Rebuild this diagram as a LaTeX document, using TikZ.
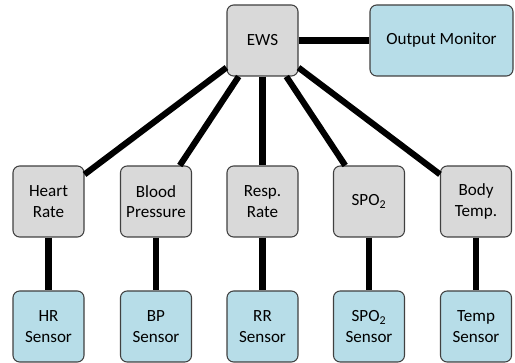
\documentclass[tikz,border=0pt]{standalone}
\usepackage{fontspec}
\setmainfont{Carlito}
\definecolor{boxgray}{HTML}{D9D9D9}
\definecolor{boxblue}{HTML}{B7DDE8}
\definecolor{edge}{HTML}{404040}
\begin{document}
\begin{tikzpicture}[x=0.75pt,y=-0.75pt,
  base/.style={draw=edge,line width=0.8pt,rounded corners=5pt,minimum width=53.25pt,minimum height=53.25pt,align=center,inner sep=1pt,font=\fontsize{12.8}{15.5}\selectfont},
  graybox/.style={base,fill=boxgray},
  bluebox/.style={base,fill=boxblue},
  link/.style={line width=4.6pt,black}]
\useasboundingbox (0,0) rectangle (515,363);
\node[graybox] (ews) at (262.5,40.5) {EWS};
\node[bluebox,minimum width=107.25pt] (om) at (441.5,40.5) {Output Monitor};
\node[graybox] (hr) at (48.5,201.5) {Heart\\Rate};
\node[graybox] (bp) at (156,201.5) {Blood\\Pressure};
\node[graybox] (rr) at (262.5,201.5) {Resp.\\Rate};
\node[graybox] (sp) at (369,201.5) {SPO\textsubscript{2}};
\node[graybox] (bt) at (476,201.5) {Body\\Temp.};
\node[bluebox] (hrs) at (48.5,326.5) {HR\\Sensor};
\node[bluebox] (bps) at (156,326.5) {BP\\Sensor};
\node[bluebox] (rrs) at (262.5,326.5) {RR\\Sensor};
\node[bluebox] (sps) at (369,326.5) {SPO\textsubscript{2}\\Sensor};
\node[bluebox] (bts) at (476,326.5) {Temp\\Sensor};
\draw[link] (ews) -- (om);
\foreach \m in {hr,bp,rr,sp,bt} \draw[link] (ews) -- (\m);
\draw[link] (hr) -- (hrs);
\draw[link] (bp) -- (bps);
\draw[link] (rr) -- (rrs);
\draw[link] (sp) -- (sps);
\draw[link] (bt) -- (bts);
\end{tikzpicture}
\end{document}
